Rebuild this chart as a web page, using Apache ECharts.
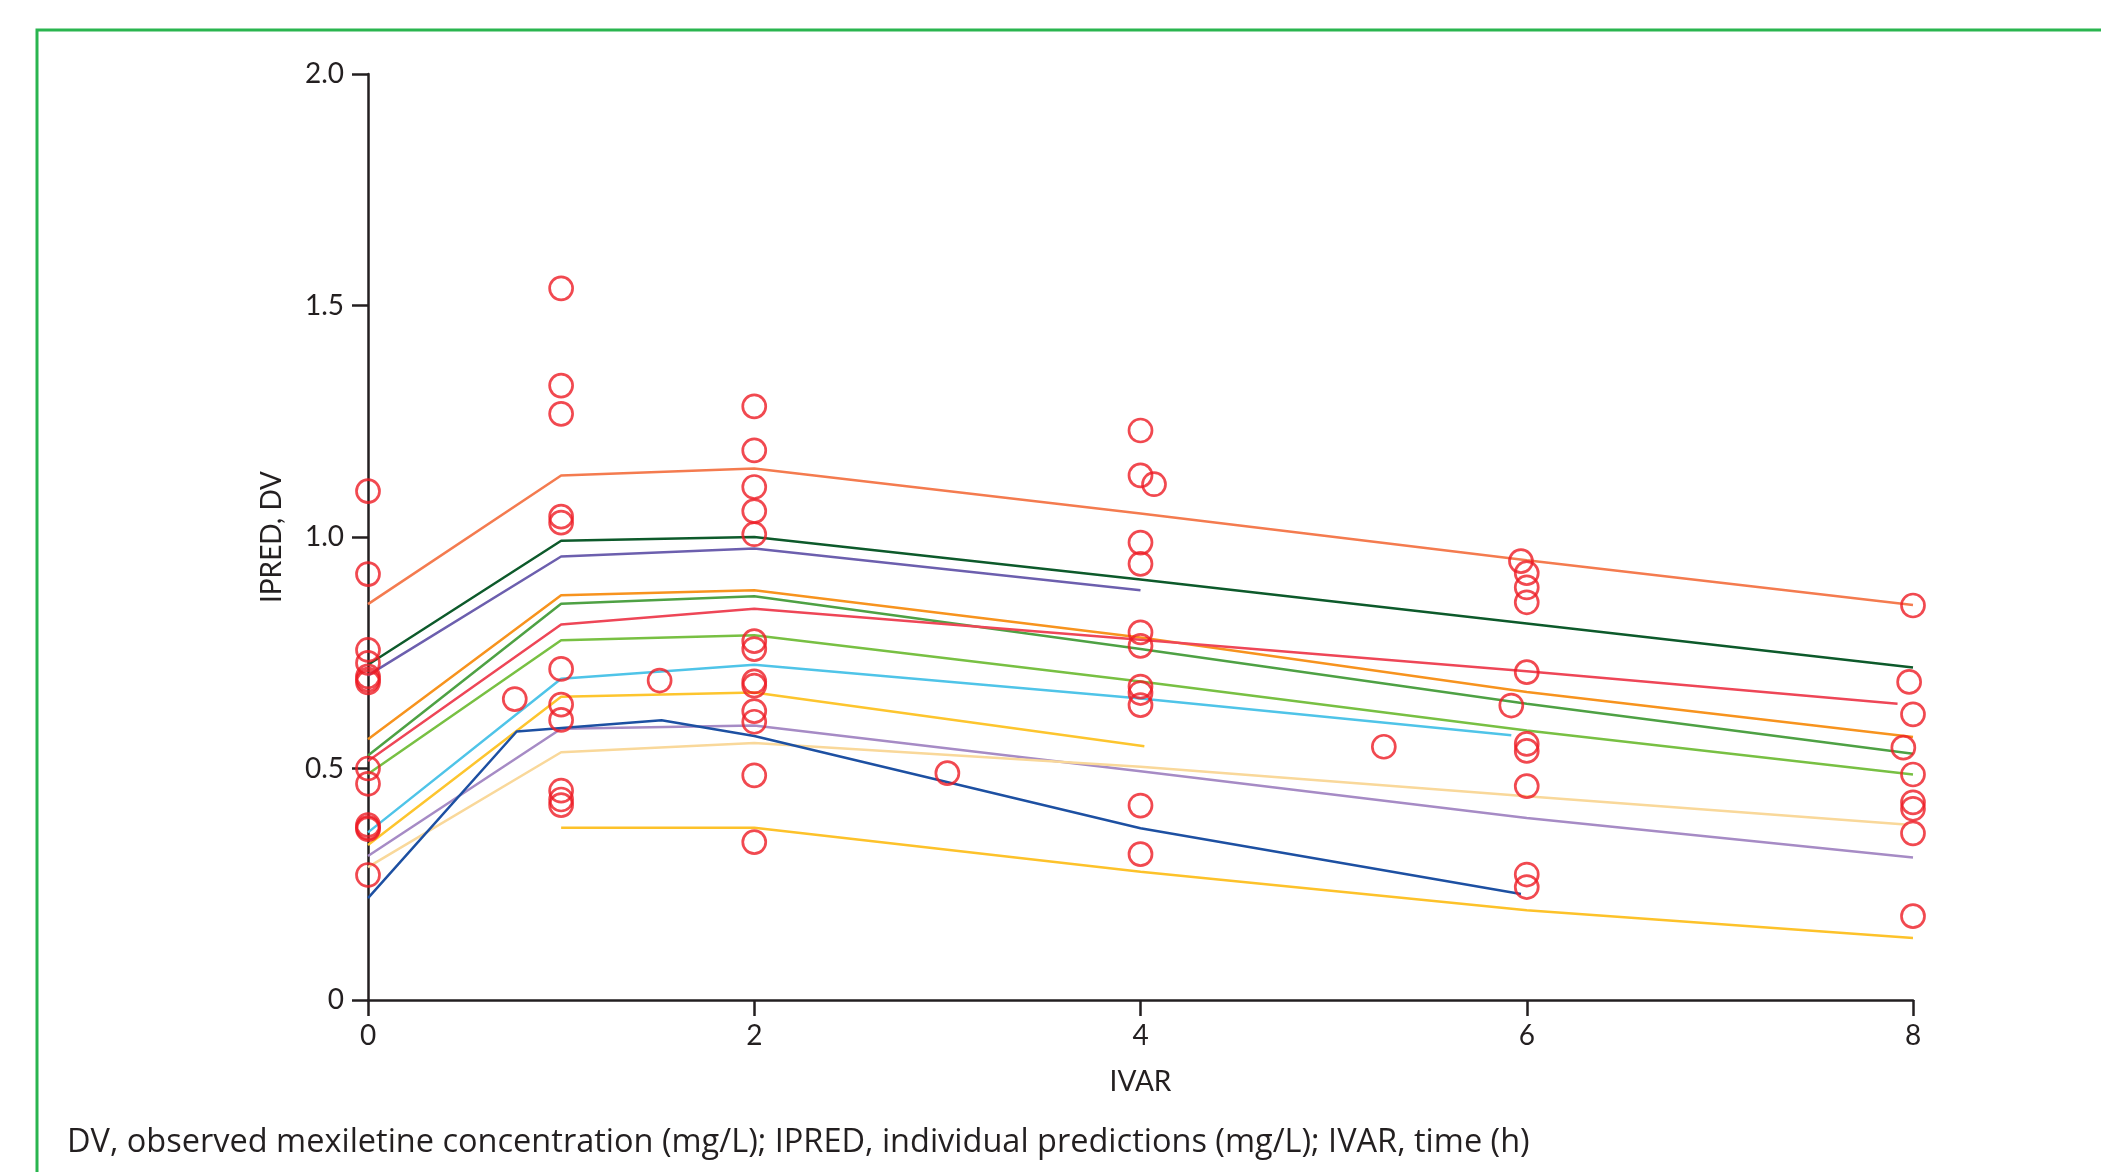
<!DOCTYPE html>
<html>
<head>
<meta charset="utf-8">
<script src="https://cdn.jsdelivr.net/npm/echarts@6/dist/echarts.min.js"></script>
<style>
  html, body { margin: 0; padding: 0; background: #fff; }
  #chart { width: 2101px; height: 1172px; }
</style>
</head>
<body>
<div id="chart"></div>
<script>
// observed concentrations (DV), time in h
var dvTime = [0, 0, 0, 0, 0, 0, 0, 0, 0, 0, 0, 0, 0,
    0.76, 1, 1, 1, 1, 1, 1, 1, 1, 1, 1, 1, 1.51,
    2, 2, 2, 2, 2, 2, 2, 2, 2, 2, 2, 2, 2, 3,
    4, 4, 4.07, 4, 4, 4, 4, 4, 4, 4, 4, 4, 5.26,
    5.97, 6, 6, 6, 6, 5.92, 6, 6, 6, 6, 6,
    8, 7.98, 8, 7.95, 8, 8, 8, 8, 8];
var dvValue = [1.099, 0.920, 0.756, 0.728, 0.699, 0.692, 0.686, 0.500, 0.467, 0.378, 0.372, 0.369, 0.270,
    0.650, 1.537, 1.327, 1.266, 1.044, 1.031, 0.715, 0.638, 0.605, 0.452, 0.433, 0.421, 0.690,
    1.282, 1.187, 1.108, 1.056, 1.006, 0.775, 0.758, 0.688, 0.679, 0.624, 0.601, 0.485, 0.341, 0.490,
    1.230, 1.133, 1.114, 0.988, 0.942, 0.794, 0.765, 0.677, 0.663, 0.637, 0.420, 0.315, 0.547,
    0.948, 0.922, 0.891, 0.859, 0.708, 0.636, 0.553, 0.538, 0.462, 0.271, 0.244,
    0.852, 0.687, 0.617, 0.545, 0.487, 0.427, 0.413, 0.360, 0.181];

// individual predictions (IPRED), one list per subject
var ipredTime = [
    [0, 1, 2, 4, 6, 8],
    [0, 1, 2, 4, 6, 8],
    [0, 1, 2, 4],
    [0, 1, 2, 4, 6, 8],
    [0, 1, 2, 4, 6, 8],
    [0, 1, 2, 4, 6, 7.92],
    [0, 1, 2, 4, 6, 8],
    [0, 1, 2, 4, 5.92],
    [0, 1, 2, 4.02],
    [0, 1, 2, 4, 6, 8],
    [0, 1, 2, 4, 6, 7.96],
    [0, 0.77, 1.52, 2, 4, 5.97],
    [1, 2, 4, 6, 8]
];
var ipredValue = [
    [0.855, 1.133, 1.148, 1.051, 0.950, 0.853],
    [0.724, 0.992, 1.000, 0.908, 0.813, 0.718],
    [0.701, 0.958, 0.975, 0.885],
    [0.563, 0.874, 0.885, 0.783, 0.665, 0.568],
    [0.528, 0.856, 0.872, 0.758, 0.640, 0.532],
    [0.516, 0.811, 0.845, 0.778, 0.710, 0.640],
    [0.488, 0.777, 0.788, 0.688, 0.582, 0.487],
    [0.362, 0.694, 0.724, 0.651, 0.572],
    [0.335, 0.655, 0.664, 0.548],
    [0.311, 0.586, 0.593, 0.494, 0.393, 0.308],
    [0.287, 0.535, 0.555, 0.504, 0.440, 0.379],
    [0.220, 0.580, 0.604, 0.570, 0.371, 0.229],
    [0.372, 0.372, 0.277, 0.194, 0.134]
];
var lineColors = ['#f47b4f', '#0d5a2b', '#6c5fae', '#f7931e', '#4ea144', '#ee4657', '#78c043',
    '#4fc4e8', '#fdc52e', '#a68bc5', '#f9d89a', '#1d50a2', '#fdc22a'];

var textColor = '#231f20';
var fontName = 'Lato';

var chart = echarts.init(document.getElementById('chart'));

var series = [];
for (var i = 0; i < ipredTime.length; i++) {
    var pts = [];
    for (var j = 0; j < ipredTime[i].length; j++) {
        pts.push([ipredTime[i][j], ipredValue[i][j]]);
    }
    series.push({
        type: 'line',
        data: pts,
        symbol: 'none',
        silent: true,
        lineStyle: { color: lineColors[i], width: 2.5 },
        z: 2
    });
}
var obs = [];
for (var k = 0; k < dvTime.length; k++) {
    obs.push([dvTime[k], dvValue[k]]);
}
series.push({
    type: 'scatter',
    data: obs,
    symbol: 'circle',
    symbolSize: 23,
    itemStyle: { color: 'rgba(0,0,0,0)', borderColor: '#ed1c24', borderWidth: 2.7 },
    z: 3
});

var option = {
    animation: false,
    backgroundColor: '#fff',
    grid: { left: 368, right: 188, top: 74, bottom: 172 },
    xAxis: {
        type: 'value',
        min: 0, max: 8, interval: 2,
        name: 'IVAR',
        nameLocation: 'middle',
        nameGap: 68,
        nameTextStyle: { color: textColor, fontSize: 28, fontFamily: fontName },
        axisLine: { lineStyle: { color: textColor, width: 2.5 } },
        axisTick: { length: 16, lineStyle: { color: textColor, width: 2.5 } },
        axisLabel: { color: textColor, fontSize: 28, fontFamily: fontName, margin: 22 },
        splitLine: { show: false }
    },
    yAxis: {
        type: 'value',
        min: 0, max: 2, interval: 0.5,
        name: 'IPRED, DV',
        nameLocation: 'middle',
        nameGap: 82,
        nameTextStyle: { color: textColor, fontSize: 28, fontFamily: fontName },
        axisLine: { lineStyle: { color: textColor, width: 2.5 } },
        axisTick: { length: 16, lineStyle: { color: textColor, width: 2.5 } },
        axisLabel: {
            color: textColor, fontSize: 28, fontFamily: fontName, margin: 24,
            formatter: function (v) { return v === 0 ? '0' : v.toFixed(1); }
        },
        splitLine: { show: false }
    },
    graphic: [
        {
            type: 'rect',
            shape: { x: 37, y: 30, width: 2200, height: 1300 },
            style: { fill: 'none', stroke: '#2ab54f', lineWidth: 3 },
            silent: true
        },
        {
            type: 'text',
            left: 67, top: 1126,
            style: {
                text: 'DV, observed mexiletine concentration (mg/L); IPRED, individual predictions (mg/L); IVAR, time (h)',
                fill: textColor, fontSize: 32.5, fontFamily: 'Open Sans'
            }
        }
    ],
    series: series
};
chart.setOption(option);
</script>
</body>
</html>
